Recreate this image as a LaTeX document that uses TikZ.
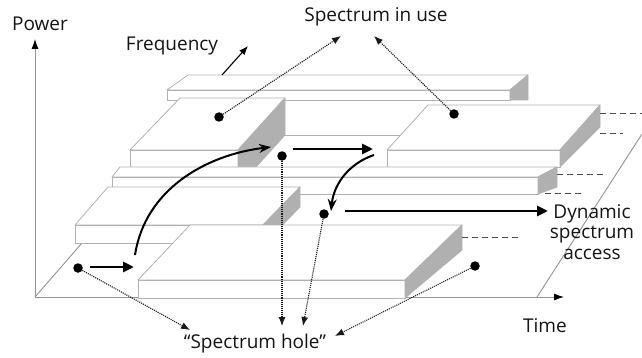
\documentclass[tikz,border=0pt]{standalone}
\usepackage{fontspec}
\setmainfont{Open Sans}
\usetikzlibrary{arrows.meta}
\tikzset{
  edge/.style={draw=gray!60, line width=0.8pt, line join=round},
  face/.style={edge, fill=white},
  side/.style={edge, fill=gray!62},
  axis/.style={draw=gray!85, line width=0.9pt},
  dot/.style={circle, fill=black, inner sep=0pt, minimum size=9.5pt},
  holearrow/.style={densely dotted, line width=1.1pt, black!90, -{Latex[length=9pt,width=7pt]}},
  bigarrow/.style={line width=2.8pt, -{Triangle[length=11pt,width=10pt]}},
  curvearrow/.style={line width=2pt, -{Stealth[length=12pt,width=9pt]}},
  lvl/.style={dash pattern=on 6pt off 4pt, draw=black!70, line width=0.9pt},
  lbl/.style={font=\fontsize{19}{20.5}\selectfont, text=black!92, inner sep=0pt}
}
\begin{document}
\begin{tikzpicture}[x=1pt,y=-1pt]
\useasboundingbox (0,0) rectangle (642,358);
% floor and axes
\draw[axis] (35,297) -- (82,243);
\draw[axis] (537,297) -- (642,134);
\draw[axis, -{Latex[length=10pt,width=7pt,color=black]}] (35,297) -- (35,39);
\draw[axis, -{Latex[length=10pt,width=7pt,color=black]}] (35,297) -- (564,297);
% slab A (back)
\draw[face] (188,75) -- (528,75) -- (510,90) -- (167,90) -- cycle;
\draw[face] (167,90) rectangle (510,100);
\draw[side] (510,90) -- (528,75) -- (528,100) -- (510,100) -- cycle;
\draw[edge] (285,135) -- (401,135);
% slab B
\draw[face] (180,98) -- (285,98) -- (238,150) -- (130,150) -- cycle;
\draw[face] (130,150) rectangle (238,187);
\draw[side] (238,150) -- (285,98) -- (285,135) -- (238,187) -- cycle;
% slab G
\draw[face] (428,105) -- (600,105) -- (560,150) -- (387,150) -- cycle;
\draw[face] (387,150) rectangle (560,167);
\draw[side] (560,150) -- (600,105) -- (600,127) -- (560,167) -- cycle;
% slab C
\draw[face] (120,167) -- (557,167) -- (538,177) -- (112,177) -- cycle;
\draw[face] (112,177) rectangle (538,194);
\draw[side] (538,177) -- (557,167) -- (557,187) -- (538,194) -- cycle;
% slab D
\draw[face] (108,187) -- (300,187) -- (263,225) -- (75,225) -- cycle;
\draw[face] (75,225) rectangle (263,243);
\draw[side] (263,225) -- (300,187) -- (300,207) -- (263,245) -- cycle;
% slab E (front)
\draw[face] (190,225) -- (462,225) -- (405,280) -- (138,280) -- cycle;
\draw[face] (138,280) rectangle (405,298);
\draw[side] (405,280) -- (462,225) -- (462,250) -- (405,298) -- cycle;
% power level dashes
\draw[lvl] (600,113) -- (642,113);
\draw[lvl] (600,133) -- (623,133);
\draw[lvl] (557,174) -- (603,174);
\draw[lvl] (545,193) -- (583,193);
\draw[lvl] (462,237) -- (520,237);
% labels
\node[lbl] (power) at (40,24) {Power};
\node[lbl] (freq) at (172,46) {Frequency};
\node[lbl] (inuse) at (376,17) {Spectrum in use};
\node[lbl] (time) at (545,326) {Time};
\node[lbl, align=center] (dsa) at (592,232) {Dynamic\\spectrum\\access};
\node[lbl] (hole) at (255,344) {“Spectrum hole”};
% frequency arrow
\coordinate (fs) at (222,75);
\coordinate (fe) at (248,46);
\draw[line width=1.1pt, -{Latex[length=9pt,width=7pt]}] (fs) -- (fe);
% dots
\node[dot] (d1) at (219,117) {};
\node[dot] (d2) at (454,114) {};
\node[dot] (d3) at (282,156) {};
\node[dot] (d4) at (324,214) {};
\node[dot] (d5) at (78,268) {};
\node[dot] (d6) at (475,266) {};
% arrow targets
\coordinate (u1) at (341,36);
\coordinate (u2) at (374,36);
\coordinate (h1) at (282,326);
\coordinate (h2) at (303,326);
\coordinate (h3) at (190,330);
\coordinate (h4) at (335,336);
\draw[holearrow] (d1) -- (u1);
\draw[holearrow] (d2) -- (u2);
\draw[holearrow] (d3) -- (h1);
\draw[holearrow] (d4) -- (h2);
\draw[holearrow] (d5) -- (h3);
\draw[holearrow] (d6) -- (h4);
% access arrows
\coordinate (m1s) at (90,267);
\coordinate (m1e) at (134,267);
\draw[bigarrow] (m1s) -- (m1e);
\coordinate (c1s) at (135,255);
\coordinate (c1e) at (271,147);
\draw[curvearrow] (c1s) .. controls (145,190) and (205,155) .. (c1e);
\coordinate (m2s) at (293,149);
\coordinate (m2e) at (373,149);
\draw[bigarrow] (m2s) -- (m2e);
\coordinate (c2s) at (374,155);
\coordinate (c2e) at (331,211);
\draw[curvearrow] (c2s) .. controls (350,163) and (334,183) .. (c2e);
\coordinate (m3s) at (345,211);
\coordinate (m3e) at (548,211);
\draw[bigarrow] (m3s) -- (m3e);
\end{tikzpicture}
\end{document}
